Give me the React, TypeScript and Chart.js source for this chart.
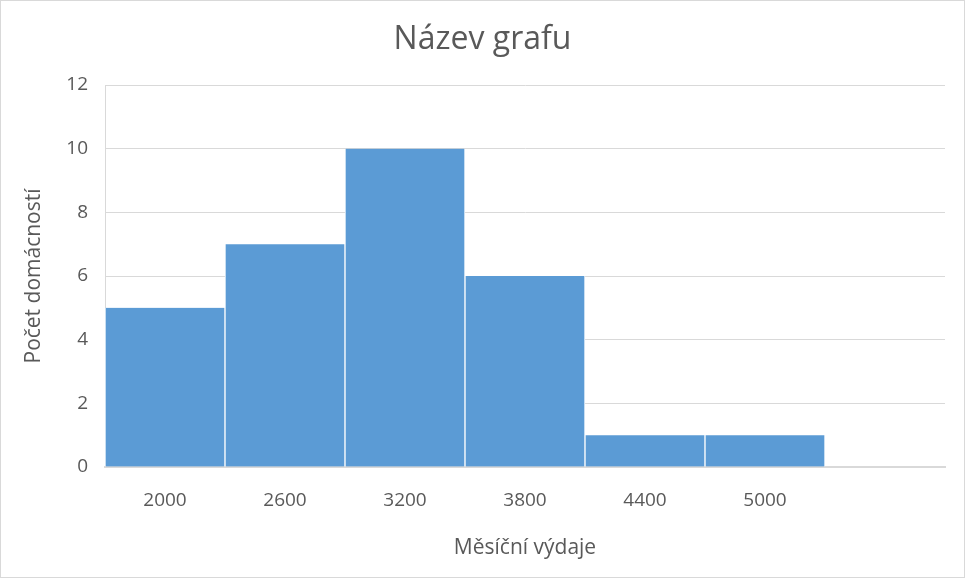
import React, { useEffect, useRef } from "react";
import { Chart, registerables } from "chart.js";

Chart.register(...registerables);

const categories = ["2000", "2600", "3200", "3800", "4400", "5000", ""];
const counts = [5, 7, 10, 6, 1, 1, 0];
const yTicks = [0, 2, 4, 6, 8, 10, 12];
const chartTitle = "Název grafu";
const xTitle = "Měsíční výdaje";
const yTitle = "Počet domácností";

const FONT = "'Open Sans', 'Noto Sans', sans-serif";
const TEXT = "#595959";
const GRID = "#d9d9d9";

const frame = {
  id: "frame",
  afterDraw(chart: any) {
    const ctx = chart.ctx;
    ctx.save();
    ctx.strokeStyle = GRID;
    ctx.lineWidth = 1;
    ctx.strokeRect(0.5, 0.5, chart.width - 1, chart.height - 1);
    ctx.restore();
  },
};

export default function App() {
  const ref = useRef<HTMLCanvasElement>(null);
  useEffect(() => {
    document.body.style.margin = "0";
    const chart = new Chart(ref.current!, {
      type: "bar",
      data: {
        labels: categories,
        datasets: [
          {
            data: counts,
            backgroundColor: "#5b9bd5",
            borderColor: "#ffffff",
            borderWidth: { left: 1, right: 1, top: 0, bottom: 0 },
            borderSkipped: false,
            categoryPercentage: 1,
            barPercentage: 1,
          },
        ],
      },
      options: {
        animation: false,
        responsive: false,
        devicePixelRatio: 1,
        layout: { padding: 0 },
        plugins: {
          legend: { display: false },
          tooltip: { enabled: false },
          title: {
            display: true,
            text: chartTitle,
            color: TEXT,
            font: { family: FONT, size: 32, weight: "normal" },
            padding: { top: 21, bottom: 25.6 },
          },
        },
        scales: {
          x: {
            grid: { display: false, drawTicks: false },
            border: { display: true, color: GRID, width: 2 },
            ticks: {
              color: TEXT,
              font: { family: FONT, size: 19 },
              padding: 22,
              maxRotation: 0,
            },
            title: {
              display: true,
              text: xTitle,
              color: TEXT,
              font: { family: FONT, size: 21 },
              padding: { top: 0, bottom: 17 },
            },
            afterFit(scale: any) {
              scale.height = 111;
            },
          },
          y: {
            min: 0,
            max: 12,
            afterBuildTicks(scale: any) {
              scale.ticks = yTicks.map((v) => ({ value: v }));
            },
            grid: { color: GRID, drawTicks: false },
            border: { display: true, color: GRID },
            ticks: {
              color: TEXT,
              font: { family: FONT, size: 19 },
              padding: 17,
            },
            title: {
              display: true,
              text: yTitle,
              color: TEXT,
              font: { family: FONT, size: 21 },
              padding: { top: 21, bottom: 0 },
            },
            afterFit(scale: any) {
              scale.width = 105;
            },
          },
          spacer: {
            type: "linear",
            position: "right",
            display: true,
            grid: { display: false, drawTicks: false },
            border: { display: false },
            ticks: { display: false },
            afterFit(scale: any) {
              scale.width = 20;
            },
          },
        },
      },
      plugins: [frame],
    });
    return () => chart.destroy();
  }, []);
  return (
    <div style={{ width: 965, height: 578 }}>
      <canvas ref={ref} width={965} height={578} style={{ display: "block" }} />
    </div>
  );
}
